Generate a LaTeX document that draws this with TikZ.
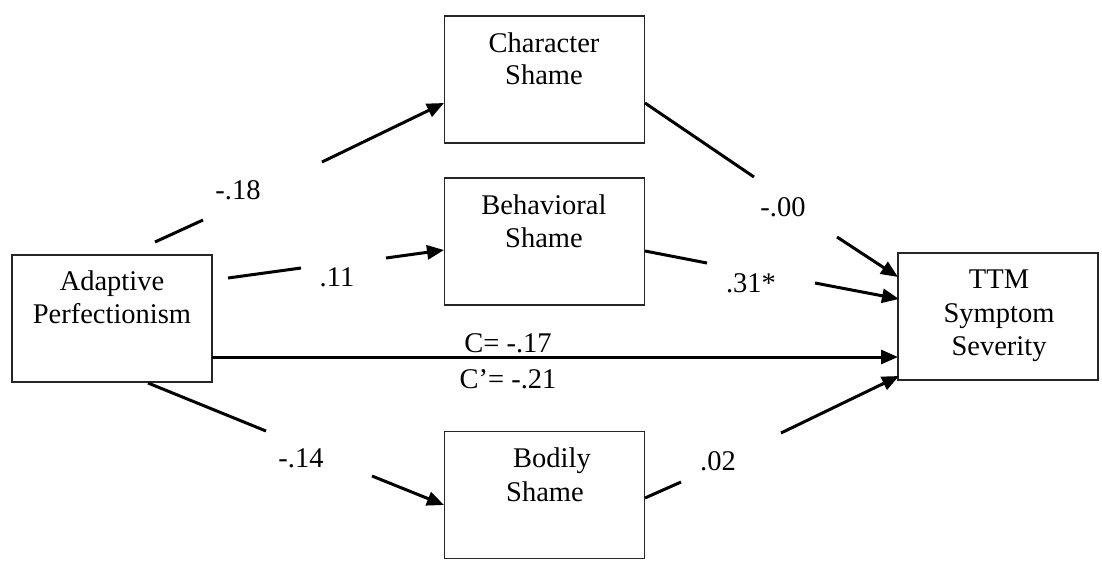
\documentclass[tikz,border=0pt]{standalone}
\usepackage{fontspec}
\setmainfont{Liberation Serif}
\usetikzlibrary{arrows.meta}

\begin{document}
\begin{tikzpicture}[x=1pt,y=-1pt,
  box/.style={draw=black!85,line width=1.4pt,minimum width=200pt,minimum height=127pt,inner sep=0pt},
  txt/.style={anchor=base,inner sep=0pt,font=\fontsize{28.5}{33}\selectfont},
  lab/.style={inner sep=0pt,text height=18.5pt,text depth=0pt,font=\fontsize{28.5}{33}\selectfont},
  conn/.style={line width=3pt},
  arr/.style={line width=3pt,-{Triangle[length=17pt,width=14pt]}}]

\useasboundingbox (0,0) rectangle (1102,571);

% boxes
\node[box] (ap)  at (112,318.5) {};
\node[box] (cs)  at (544.5,79.5) {};
\node[box] (bs)  at (544.5,241.5) {};
\node[box] (bo)  at (544.5,495) {};
\node[box] (ttm) at (998,316.5) {};

% box texts
\node[txt] (ap1) at (112,290) {Adaptive};
\node[txt] (ap2) at (112,323) {Perfectionism};
\node[txt] (cs1) at (544,52) {Character};
\node[txt] (cs2) at (544,84) {Shame};
\node[txt] (bs1) at (544,214) {Behavioral};
\node[txt] (bs2) at (544,247) {Shame};
\node[txt] (bo1) at (552,467) {Bodily};
\node[txt] (bo2) at (545,501) {Shame};
\node[txt] (tt1) at (999,288) {TTM};
\node[txt] (tt2) at (999,322) {Symptom};
\node[txt] (tt3) at (999,355) {Severity};

% path coefficients
\node[lab] (l18) at (238,190) {-.18};
\node[lab] (l11) at (337,277) {.11};
\node[lab] (l14) at (301,458) {-.14};
\node[lab] (l00) at (783,207) {-.00};
\node[lab] (l31) at (751,283) {.31*};
\node[lab] (l02) at (718,461) {.02};
\node[lab] (lc)  at (508,343) {C= -.17};
\node[lab] (lcp) at (508,379) {C’= -.21};

% connector break points
\coordinate (a1) at (155,242); \coordinate (a2) at (203,220);
\coordinate (a3) at (322,162); \coordinate (a4) at (444,103);
\coordinate (b1) at (228,278); \coordinate (b2) at (301,268);
\coordinate (b3) at (386,258); \coordinate (b4) at (444,250);
\coordinate (c1) at (212,357); \coordinate (c2) at (898,357);
\coordinate (d1) at (148,383); \coordinate (d2) at (266,431);
\coordinate (d3) at (372,476); \coordinate (d4) at (444,505);
\coordinate (e1) at (645,103); \coordinate (e2) at (754,177);
\coordinate (e3) at (837,237); \coordinate (e4) at (898,277);
\coordinate (f1) at (645,251); \coordinate (f2) at (707,263);
\coordinate (f3) at (815,283); \coordinate (f4) at (899,299);
\coordinate (g1) at (645,498); \coordinate (g2) at (681,482);
\coordinate (g3) at (781,433); \coordinate (g4) at (899,376);

% Adaptive Perfectionism -> mediators
\draw[conn] (a1) -- (a2);  \draw[arr] (a3) -- (a4);
\draw[conn] (b1) -- (b2);  \draw[arr] (b3) -- (b4);
\draw[conn] (d1) -- (d2);  \draw[arr] (d3) -- (d4);
% direct path
\draw[arr] (c1) -- (c2);
% mediators -> TTM Symptom Severity
\draw[conn] (e1) -- (e2);  \draw[arr] (e3) -- (e4);
\draw[conn] (f1) -- (f2);  \draw[arr] (f3) -- (f4);
\draw[conn] (g1) -- (g2);  \draw[arr] (g3) -- (g4);

\end{tikzpicture}
\end{document}
